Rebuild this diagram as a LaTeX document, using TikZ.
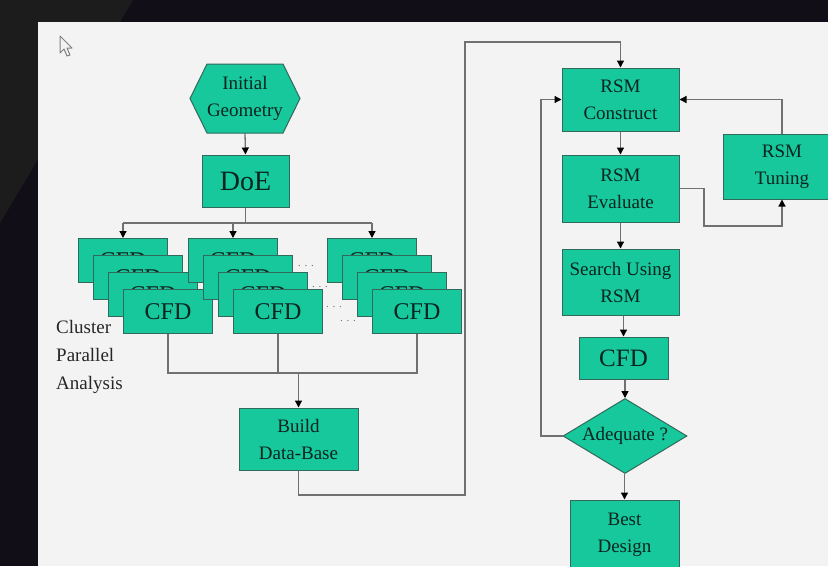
\documentclass[tikz,border=0pt]{standalone}
\usepackage{fontspec}
\setmainfont{Liberation Serif}
\usetikzlibrary{shapes.geometric,arrows.meta,calc}
\definecolor{bgdark}{RGB}{18,14,24}
\definecolor{bggray}{RGB}{28,28,28}
\definecolor{panel}{RGB}{243,243,243}
\definecolor{boxfill}{RGB}{22,200,155}
\definecolor{boxline}{RGB}{50,105,90}
\definecolor{txt}{RGB}{10,36,32}
\definecolor{conn}{RGB}{112,112,112}
\tikzset{
  box/.style={draw=boxline, fill=boxfill, line width=1pt, inner sep=0pt, align=center, text=txt,
    font=\fontsize{19}{27}\selectfont},
  cfdbox/.style={box, minimum width=89pt, minimum height=44pt, anchor=north west,
    font=\fontsize{24}{28}\selectfont},
  wire/.style={draw=conn, line width=1.3pt},
  arr/.style={wire, -{Triangle[length=7pt,width=7pt,color=black]}},
  dots/.style={text=conn, font=\fontsize{11}{11}\selectfont, inner sep=0pt}
}
\begin{document}
\begin{tikzpicture}[x=1pt,y=-1pt]
\useasboundingbox (0,0) rectangle (828,566);
\clip (0,0) rectangle (828,566);
% background
\fill[bgdark] (0,0) rectangle (828,566);
\fill[bggray] (0,0) -- (133,0) -- (0,223) -- cycle;
\fill[panel] (38,22) rectangle (828,566);
% cursor
\draw[gray, line width=1pt, line join=round, fill=panel]
  (60,36) -- (60,53) -- (64,49) -- (67,56) -- (70,55) -- (67,48) -- (72,48) -- cycle;
% hexagon
\fill[boxfill, draw=boxline, line width=1pt]
  (190,98.5) -- (207,64) -- (283,64) -- (300,98.5) -- (283,133) -- (207,133) -- cycle;
\node[align=center, text=txt, font=\fontsize{19}{27}\selectfont, minimum width=110pt,
  minimum height=69pt, inner sep=0pt] (geo) at (245,98.5) {Initial\\Geometry};
\node[box, minimum width=87pt, minimum height=52pt, font=\fontsize{28}{30}\selectfont]
  (doe) at (245.5,181) {DoE};
% CFD stacks
\foreach \s/\x in {1/78,2/188,3/327}{
  \foreach \i/\l in {0/a,1/b,2/c,3/d}{
    \node[cfdbox] (s\s\l) at ({\x+15*\i},{238+17*\i}) {CFD};
  }
}
\node[dots] (d1) at (306,266) {. . .};
\node[dots] (d2) at (320,287) {. . .};
\node[dots] (d3) at (334,307) {. . .};
\node[dots] (d4) at (348,321) {. . .};
\node[align=left, anchor=west, text=black!85, font=\fontsize{19}{28}\selectfont, inner sep=0pt]
  (lab) at (56,357) {Cluster\\Parallel\\Analysis};
\node[box, minimum width=119pt, minimum height=62pt] (build) at (298.5,439) {Build\\Data-Base};
% right column
\node[box, minimum width=117pt, minimum height=63pt] (con) at (620.5,99.5) {RSM\\Construct};
\node[box, minimum width=117pt, minimum height=67pt] (eva) at (620.5,188.5) {RSM\\Evaluate};
\node[box, minimum width=118pt, minimum height=65pt] (tun) at (782,166.5) {RSM\\Tuning};
\node[box, minimum width=117pt, minimum height=66pt] (sea) at (620.5,282) {Search Using\\RSM};
\node[box, minimum width=89pt, minimum height=42pt, font=\fontsize{25}{28}\selectfont]
  (cfd) at (623.5,358) {CFD};
\node[box, diamond, aspect=1.65, minimum width=124pt, minimum height=75pt] (ade) at (625,436) {Adequate ?};
\node[box, minimum width=109pt, minimum height=70pt] (best) at (624.5,535) {Best\\Design};
% connectors
\draw[arr] (geo.south) -- (doe.north);
\coordinate (split) at (245.5,223);
\draw[wire] (doe.south) -- (split);
\draw[wire] (s1a.north |- split) -- (s3a.north |- split);
\foreach \s in {1,2,3}{ \draw[arr] (s\s a.north |- split) -- (s\s a.north); }
\coordinate (join) at (298.5,373);
\draw[wire] (s1d.south) |- (join) -| (s3d.south);
\draw[wire] (s2d.south) -- (s2d.south |- join);
\draw[arr] (join) -- (build.north);
\coordinate (lowright) at (465,495);
\coordinate (topleft) at (465,42);
\draw[arr] (build.south) |- (lowright) -- (topleft) -| (con.north);
\draw[arr] (con.south) -- (eva.north);
\draw[arr] (eva.south) -- (eva.south |- sea.north);
\draw[arr] (sea.south -| cfd.north) -- (cfd.north);
\draw[arr] (cfd.south -| ade.north) -- (ade.north);
\draw[arr] (ade.south -| best.north) -- (best.north);
\draw[arr] (tun.north) |- (con.east);
\coordinate (ev1) at (704,226);
\draw[arr] (eva.east) -| (ev1) -| (tun.south);
\coordinate (loopx) at (541,436);
\draw[arr] (ade.west) -- (loopx) |- (con.west);
\end{tikzpicture}
\end{document}
